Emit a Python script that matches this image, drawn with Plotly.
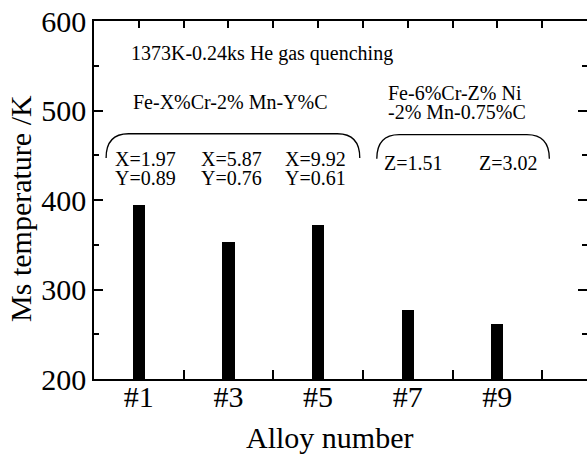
import plotly.graph_objects as go

alloys = [1, 3, 5, 7, 9]
alloy_labels = ["#1", "#3", "#5", "#7", "#9"]
ms_temp = [394, 353, 372, 277, 261]

x_labels = ["X=1.97", "X=5.87", "X=9.92"]
y_labels = ["Y=0.89", "Y=0.76", "Y=0.61"]
z_labels = ["Z=1.51", "Z=3.02"]

FONT = "Liberation Serif, Times New Roman, serif"
BIG = 30
SMALL = 20

fig = go.Figure()
fig.add_trace(go.Bar(x=alloys, y=ms_temp, width=0.27,
                     marker=dict(color="black", line=dict(width=0)),
                     showlegend=False))
# dummy trace for top axis
fig.add_trace(go.Scatter(x=[0], y=[200], xaxis="x2", mode="markers",
                         marker=dict(opacity=0), showlegend=False, hoverinfo="skip"))

fig.update_layout(
    width=587, height=455,
    margin=dict(l=94, r=0, t=21, b=76, autoexpand=False),
    paper_bgcolor="white", plot_bgcolor="white",
    font=dict(family=FONT, color="black"),
    xaxis=dict(range=[0, 11], tickvals=alloys, ticktext=alloy_labels,
               ticks="inside", ticklen=0, tickcolor="white",
               ticklabelstandoff=-10,
               tickfont=dict(size=BIG, family=FONT), automargin=False,
               minor=dict(tickvals=[2, 4, 6, 8, 10], ticks="inside", ticklen=9,
                          tickwidth=1.5, tickcolor="black", showgrid=False),
               showline=True, linecolor="black", linewidth=1.5,
               showgrid=False, zeroline=False, fixedrange=True),
    xaxis2=dict(range=[0, 11], overlaying="x", side="top", anchor="y",
                dtick=1, tick0=0, ticks="inside", ticklen=7, tickwidth=1.5,
                tickcolor="black", showticklabels=False, automargin=False,
                showline=True, linecolor="black", linewidth=1.5,
                showgrid=False, zeroline=False),
    yaxis=dict(range=[200, 600], dtick=100, ticks="inside", ticklen=9,
               tickwidth=1.5, tickcolor="black", automargin=False,
               minor=dict(dtick=50, ticks="inside", ticklen=5, tickwidth=1.5,
                          tickcolor="black", showgrid=False),
               mirror="ticks",
               tickfont=dict(size=BIG, family=FONT),
               showline=True, linecolor="black", linewidth=1.5,
               showgrid=False, zeroline=False),
    bargap=0,
)

def txt(x, y, t, size=SMALL):
    return dict(x=x, y=y, xref="x", yref="y", xanchor="left", yanchor="middle",
                text=t, showarrow=False, font=dict(size=size, family=FONT))

annos = []
annos.append(dict(x=(21 - 94) / (587 - 94), y=0.475, xref="paper", yref="paper",
                  xanchor="center", yanchor="middle",
                  text="Ms temperature /K", textangle=-90, showarrow=False,
                  font=dict(size=BIG, family=FONT)))
annos.append(dict(x=(329 - 94) / (587 - 94), y=-0.163, xref="paper", yref="paper",
                  xanchor="center", yanchor="middle",
                  text="Alloy number", showarrow=False,
                  font=dict(size=BIG, family=FONT)))
annos.append(txt(0.78, 564, "1373K-0.24ks He gas quenching"))
annos.append(txt(0.83, 509.5, "Fe-X%Cr-2% Mn-Y%C"))
annos.append(txt(6.52, 519.6, "Fe-6%Cr-Z% Ni"))
annos.append(txt(6.52, 498.3, "-2% Mn-0.75%C"))
for xa, tx, ty in zip([0.42, 2.34, 4.22], x_labels, y_labels):
    annos.append(txt(xa, 445.8, tx))
    annos.append(txt(xa, 424.6, ty))
for xa, t in zip([6.43, 8.55], z_labels):
    annos.append(txt(xa, 441.3, t))
fig.update_layout(annotations=annos)

def brace(x0, x1, ytop, yend, rx=0.5):
    return (f"M {x0},{yend} Q {x0},{ytop} {x0+rx},{ytop} "
            f"L {x1-rx},{ytop} Q {x1},{ytop} {x1},{yend}")

fig.add_shape(type="path", path=brace(0.27, 5.93, 474, 447), xref="x", yref="y",
              line=dict(color="black", width=1.3))
fig.add_shape(type="path", path=brace(6.31, 10.16, 473, 446), xref="x", yref="y",
              line=dict(color="black", width=1.3))

fig.write_html("out.html", config={"displayModeBar": False},
               post_script="document.body.style.margin='0';document.body.style.overflow='hidden';")
